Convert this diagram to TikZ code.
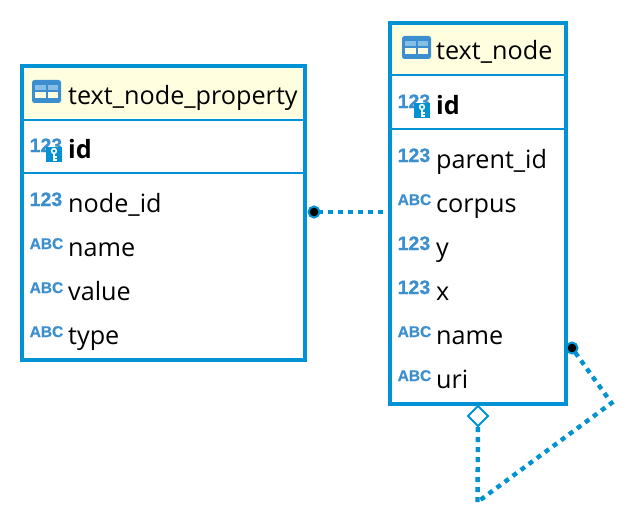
\documentclass[tikz,border=0pt]{standalone}
\usepackage{fontspec}
\usetikzlibrary{shapes.geometric}
\setmainfont{Open Sans}
\newfontfamily\iconfont{Liberation Sans}[UprightFont=* Bold,FakeBold=0.6]
\definecolor{erblue}{HTML}{0092D2}
\definecolor{icoblue}{HTML}{3C8FCE}
\definecolor{headfill}{HTML}{FFFFE0}
\definecolor{celllight}{HTML}{85BFE8}
\tikzset{
  x=1pt,y=-1pt,
  tablebox/.style={draw=erblue,line width=4pt,fill=white,inner sep=0pt,outer sep=0pt,rectangle,anchor=north west},
  sepline/.style={draw=erblue,line width=2pt},
  label/.style={anchor=base west,inner sep=0pt,font=\fontsize{25.2}{26}\selectfont,text=black},
  boldlabel/.style={label,font=\fontsize{25.2}{26}\selectfont\bfseries},
  numicon/.style={anchor=base west,inner sep=0pt,text=icoblue,font=\iconfont\fontsize{19.5}{20}\selectfont},
  abcicon/.style={anchor=base west,inner sep=0pt,text=icoblue,font=\iconfont\fontsize{15.5}{17}\selectfont},
  rel/.style={draw=erblue,line width=4.4pt,dash pattern=on 5pt off 5pt},
  dotend/.style={circle,fill=black,draw=erblue,line width=2pt,minimum size=11pt,inner sep=0pt,outer sep=0pt},
  diamondend/.style={diamond,aspect=1,fill=white,draw=erblue,line width=2pt,minimum size=20pt,inner sep=0pt,outer sep=0pt}
}
\newcommand{\tableicon}[2]{%
  \begin{scope}[shift={(#1,#2)}]
    \fill[icoblue,rounded corners=2.5pt] (0,0) rectangle (29,23);
    \fill[celllight] (3,5) rectangle (13.5,10.5);
    \fill[celllight] (15.5,5) rectangle (26,10.5);
    \fill[headfill] (3,12.5) rectangle (13.5,18);
    \fill[headfill] (15.5,12.5) rectangle (26,18);
  \end{scope}}
\newcommand{\keyicon}[2]{%
  \begin{scope}[shift={(#1,#2)}]
    \fill[erblue] (0,0) rectangle (16,15);
    \draw[white,line width=1.5pt] (8,4) circle (2.4);
    \draw[white,line width=2pt] (8,6.5) -- (8,14);
    \draw[white,line width=1.3pt] (8,10) -- (11,10) (8,13) -- (11,13);
  \end{scope}}
\begin{document}
\begin{tikzpicture}
\useasboundingbox (0,0) rectangle (636,524);
\fill[white] (0,0) rectangle (636,524);

% left table
\node[tablebox,minimum width=283pt,minimum height=293pt] (lt) at (22,66.5) {};
\fill[headfill] (24,68.5) rectangle (303,118);
\draw[sepline] (24,119.5) -- (303,119.5);
\draw[sepline] (24,173) -- (303,173);
\tableicon{32}{80}
\node[label] (lt0) at (68,105) {text\_node\_property};
\node[numicon] (lti1) at (29.5,152) {123};
\keyicon{46}{147}
\node[boldlabel] (lt1) at (68,158) {id};
\node[numicon] (lti2) at (29.5,206) {123};
\node[label] (lt2) at (68,212) {node\_id};
\node[abcicon] (lti3) at (29.5,249) {ABC};
\node[label] (lt3) at (68,256) {name};
\node[abcicon] (lti4) at (29.5,293) {ABC};
\node[label] (lt4) at (68,300) {value};
\node[abcicon] (lti5) at (29.5,337) {ABC};
\node[label] (lt5) at (68,344) {type};

% right table
\node[tablebox,minimum width=176pt,minimum height=381pt] (rt) at (390,23) {};
\fill[headfill] (392,25) rectangle (564,74);
\draw[sepline] (392,75) -- (564,75);
\draw[sepline] (392,129) -- (564,129);
\tableicon{402}{36}
\node[label] (rt0) at (436,60) {text\_node};
\node[numicon] (rti1) at (397.5,108) {123};
\keyicon{414}{103}
\node[boldlabel] (rt1) at (436,114) {id};
\node[numicon] (rti2) at (397.5,162) {123};
\node[label] (rt2) at (436,168) {parent\_id};
\node[abcicon] (rti3) at (397.5,205) {ABC};
\node[label] (rt3) at (436,212) {corpus};
\node[numicon] (rti4) at (397.5,250) {123};
\node[label] (rt4) at (436,256) {y};
\node[numicon] (rti5) at (397.5,294) {123};
\node[label] (rt5) at (436,300) {x};
\node[abcicon] (rti6) at (397.5,337) {ABC};
\node[label] (rt6) at (436,344) {name};
\node[abcicon] (rti7) at (397.5,381) {ABC};
\node[label] (rt7) at (436,388) {uri};

% connectors
\coordinate (rtin) at (388,212);
\coordinate (corner) at (611.5,403);
\coordinate (bottom) at (477.5,502);
\node[dotend] (d1) at (314,212) {};
\node[dotend] (d2) at (572,348) {};
\node[diamondend] (dm) at (478,416) {};
\draw[rel,dash phase=1.5] (d1) -- (rtin);
\draw[rel] (d2) -- (corner) -- (bottom);
\draw[rel] (bottom) -- (dm);
\end{tikzpicture}
\end{document}
